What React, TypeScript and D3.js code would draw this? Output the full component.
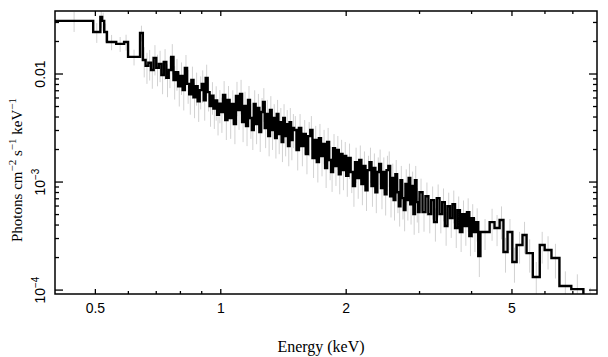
import React from "react";
import * as d3 from "d3";

// Bin edges in keV (N+1 values)
const binEdges: number[] = [
  0.40, 0.494, 0.514, 0.519, 0.525, 0.533, 0.561, 0.586, 0.599, 0.640,
  0.65, 0.66, 0.67, 0.68, 0.69, 0.70, 0.71, 0.72, 0.73, 0.74, 0.75, 0.76, 0.77, 0.78, 0.79,
  0.80, 0.81, 0.82, 0.83, 0.84, 0.85, 0.86, 0.87, 0.88, 0.89, 0.90, 0.91, 0.92, 0.93, 0.94,
  0.95, 0.96, 0.97, 0.98, 0.99,
  1.0000, 1.0125, 1.0250, 1.0375, 1.0500, 1.0625, 1.0750, 1.0875, 1.1000, 1.1125,
  1.1250, 1.1375, 1.1500, 1.1625, 1.1750, 1.1875, 1.2000, 1.2125, 1.2250, 1.2375,
  1.2500, 1.2625, 1.2750, 1.2875, 1.3000, 1.3125, 1.3250, 1.3375, 1.3500, 1.3625,
  1.3750, 1.3875, 1.4000, 1.4125, 1.4250, 1.4375, 1.4500, 1.4625, 1.4750, 1.4875,
  1.50, 1.52, 1.54, 1.56, 1.58, 1.60, 1.62, 1.64, 1.66, 1.68, 1.70, 1.72, 1.74,
  1.76, 1.78, 1.80, 1.82, 1.84, 1.86, 1.88, 1.90, 1.92, 1.94, 1.96, 1.98,
  2.000, 2.025, 2.050, 2.075, 2.100, 2.125, 2.150, 2.175, 2.200, 2.225,
  2.250, 2.275, 2.300, 2.325, 2.350, 2.375, 2.400, 2.425, 2.450, 2.475,
  2.500, 2.525, 2.550, 2.575, 2.600, 2.625, 2.650, 2.675, 2.700, 2.725,
  2.750, 2.775, 2.800, 2.825, 2.850, 2.875, 2.900, 2.925, 2.950, 2.975,
  3.00, 3.05, 3.10, 3.15, 3.20, 3.25, 3.30, 3.35, 3.40, 3.45, 3.50, 3.55,
  3.60, 3.65, 3.70, 3.75, 3.80, 3.85, 3.90, 3.95, 4.00, 4.05, 4.10, 4.15,
  4.20, 4.42, 4.54, 4.67, 4.77, 4.88, 5.01, 5.13, 5.30, 5.42, 5.61, 5.83, 5.99, 6.22, 6.50,
  6.94, 7.42,
  8.00,
];

// Flux in units of 1e-4 photons cm^-2 s^-1 keV^-1 (one per bin)
const flux: number[] = [
  310, 245, 337, 310, 245, 198, 190, 198, 144, 240,
  135, 119, 127, 109, 141, 114, 124, 98, 129, 92, 109, 144, 88, 104, 77,
  96, 71, 114, 81, 65, 88, 61, 77, 56, 71, 81, 57, 92, 68, 50.5,
  63, 48, 57, 42, 53,
  44.5, 63.9, 37.5, 57.4, 39.1, 52.7, 34.4, 62.6, 46.4, 65.3,
  35.9, 50.5, 33.0, 57.4, 39.1, 30.3, 52.7, 34.4, 48.4, 29.0,
  44.5, 55.0, 31.6, 42.6, 26.6, 46.4, 30.3, 39.1, 25.5, 42.6,
  27.8, 35.9, 23.5, 39.1, 26.6, 34.4, 21.5, 35.9, 24.5, 31.6,
  30.3, 19.8, 31.6, 21.5, 27.8, 18.2, 26.6, 30.3, 16.7, 24.5, 15.3, 25.5, 17.4,
  22.5, 13.5, 23.5, 16.0, 12.4, 20.6, 14.1, 19.8, 11.8, 18.2, 12.9, 17.4,
  11.4, 16.7, 12.4, 9.2, 15.3, 10.9, 16.0, 9.6, 14.1, 8.4,
  12.9, 15.3, 9.2, 13.5, 8.05, 12.4, 14.7, 8.8, 12.4, 7.7,
  12.9, 14.1, 7.4, 10.9, 6.8, 11.8, 8.05, 5.97, 10.4, 7.1,
  5.5, 9.6, 6.8, 10.9, 6.24, 9.2, 5.05, 10.4, 6.52, 5.27,
  8.05, 5.27, 7.4, 5.05, 6.8, 4.26, 7.1, 5.05, 6.52, 3.92, 5.97, 4.64,
  6.24, 3.75, 5.5, 3.45, 5.05, 3.92, 5.27, 3.16, 4.64, 3.45, 4.26, 2.07,
  3.45, 4.26, 3.75, 4.45, 2.25, 3.45, 1.82, 2.61, 3.23, 2.20, 1.32, 2.61, 2.35, 1.98, 1.09,
  1.02, 0.75,
];

// 1-sigma errors, same units
const fluxErr: number[] = [
  65, 51, 70, 60, 48, 32, 30, 33, 24, 40,
  42, 38, 40, 36, 44, 37, 40, 33, 41, 31, 35, 45, 30, 34, 27,
  32, 25, 36, 28, 23, 29, 22, 26, 20, 24, 27, 20, 30, 23, 18,
  21, 17, 20, 15, 18,
  16, 22, 13, 20, 14, 18, 12, 22, 16, 23,
  12.5, 18, 11.5, 20, 14, 10.5, 18, 12, 17, 10,
  15.5, 19, 11, 15, 9.3, 16, 10.5, 13.5, 9, 15,
  9.7, 12.5, 8.2, 13.5, 9.3, 12, 7.5, 12.5, 8.6, 11,
  10.5, 7, 11, 7.5, 9.7, 6.4, 9.3, 10.5, 5.8, 8.6, 5.4, 9, 6.1,
  7.9, 4.7, 8.2, 5.6, 4.3, 7.2, 4.9, 6.9, 4.1, 6.4, 4.5, 6.1,
  4.1, 6, 4.5, 3.3, 5.5, 3.9, 5.8, 3.5, 5.1, 3.0,
  4.6, 5.5, 3.3, 4.9, 2.9, 4.5, 5.3, 3.2, 4.5, 2.8,
  4.6, 5.1, 2.7, 3.9, 2.4, 4.2, 2.9, 2.1, 3.7, 2.6,
  2.0, 3.5, 2.4, 3.9, 2.2, 3.3, 1.8, 3.7, 2.3, 1.9,
  2.7, 1.8, 2.5, 1.7, 2.3, 1.45, 2.4, 1.7, 2.2, 1.35, 2.0, 1.6,
  2.1, 1.3, 1.85, 1.2, 1.7, 1.35, 1.8, 1.1, 1.6, 1.2, 1.45, 0.75,
  1.1, 1.4, 1.2, 1.5, 0.8, 1.1, 0.65, 0.85, 1.05, 0.75, 0.5, 0.85, 0.8, 0.7, 0.4,
  0.38, 0.3,
];

const fluxUnit = 1e-4;

const xMajorTicks = [0.5, 1, 2, 5];
const xTickLabels = ["0.5", "1", "2", "5"];
const xMinorTicks = [0.6, 0.7, 0.8, 0.9, 3, 4, 6, 7];

const yMajorTicks = [1e-4, 1e-3, 1e-2];
const yMinorTicks = [
  2e-4, 3e-4, 4e-4, 5e-4, 6e-4, 7e-4, 8e-4, 9e-4,
  2e-3, 3e-3, 4e-3, 5e-3, 6e-3, 7e-3, 8e-3, 9e-3,
  2e-2, 3e-2,
];

const xDomain: [number, number] = [0.4, 8];
const yDomain: [number, number] = [9.2e-5, 0.0383];

const W = 608;
const H = 357;
const L = 55, R = 597, T = 11, B = 294;

export default function App() {
  const x = d3.scaleLog().domain(xDomain).range([L, R]);
  const y = d3.scaleLog().domain(yDomain).range([B, T]);

  const n = flux.length;
  const pts: [number, number][] = [];
  for (let i = 0; i < n; i++) pts.push([binEdges[i], flux[i] * fluxUnit]);
  pts.push([binEdges[n], flux[n - 1] * fluxUnit]);

  const line = d3
    .line<[number, number]>()
    .x((d) => x(d[0]))
    .y((d) => y(Math.max(d[1], 1e-6)))
    .curve(d3.curveStepAfter);

  const sans = "'Liberation Sans', Arial, Helvetica, sans-serif";
  const serif = "'Liberation Serif', 'Times New Roman', serif";

  const errBars = flux.map((f, i) => {
    const c = Math.sqrt(binEdges[i] * binEdges[i + 1]);
    const hi = (f + fluxErr[i]) * fluxUnit;
    const lo = Math.max((f - fluxErr[i]) * fluxUnit, 1e-6);
    return (
      <line
        key={"e" + i}
        x1={x(c)}
        x2={x(c)}
        y1={y(hi)}
        y2={y(lo)}
        stroke="#d2d2d2"
        strokeWidth={1}
      />
    );
  });

  return (
    <div style={{ position: "absolute", left: 0, top: 0 }}>
      <svg width={W} height={H} style={{ display: "block", background: "#fff" }}>
        <defs>
          <clipPath id="plotClip">
            <rect x={L} y={T} width={R - L} height={B - T} />
          </clipPath>
        </defs>
        <g clipPath="url(#plotClip)">
          {errBars}
          <path d={line(pts) || ""} fill="none" stroke="#000" strokeWidth={2.4} strokeLinejoin="miter" />
        </g>

        {/* frame */}
        <rect x={L} y={T} width={R - L} height={B - T} fill="none" stroke="#000" strokeWidth={1.5} />

        {/* x ticks */}
        {xMajorTicks.map((t) => (
          <g key={"xm" + t}>
            <line x1={x(t)} x2={x(t)} y1={B} y2={B - 5} stroke="#000" strokeWidth={1.3} />
            <line x1={x(t)} x2={x(t)} y1={T} y2={T + 5} stroke="#000" strokeWidth={1.3} />
          </g>
        ))}
        {xMinorTicks.map((t) => (
          <g key={"xn" + t}>
            <line x1={x(t)} x2={x(t)} y1={B} y2={B - 3} stroke="#000" strokeWidth={1.3} />
            <line x1={x(t)} x2={x(t)} y1={T} y2={T + 3} stroke="#000" strokeWidth={1.3} />
          </g>
        ))}
        {xMajorTicks.map((t, i) => (
          <text key={"xl" + t} x={x(t)} y={313} textAnchor="middle" fontFamily={sans} fontSize={14} fill="#000">
            {xTickLabels[i]}
          </text>
        ))}

        {/* y ticks */}
        {yMajorTicks.map((t) => (
          <g key={"ym" + t}>
            <line x1={L} x2={L + 8} y1={y(t)} y2={y(t)} stroke="#000" strokeWidth={1.3} />
            <line x1={R} x2={R - 8} y1={y(t)} y2={y(t)} stroke="#000" strokeWidth={1.3} />
          </g>
        ))}
        {yMinorTicks.map((t) => (
          <g key={"yn" + t}>
            <line x1={L} x2={L + 4} y1={y(t)} y2={y(t)} stroke="#000" strokeWidth={1.3} />
            <line x1={R} x2={R - 4} y1={y(t)} y2={y(t)} stroke="#000" strokeWidth={1.3} />
          </g>
        ))}

        {/* y tick labels (rotated) */}
        <text transform={`translate(45, ${y(1e-2)}) rotate(-90)`} textAnchor="middle" fontFamily={sans} fontSize={14} fill="#000">
          0.01
        </text>
        <text transform={`translate(45, ${y(1e-3)}) rotate(-90)`} textAnchor="middle" fontFamily={sans} fontSize={14} fill="#000">
          10
          <tspan dy={-6} fontSize={10}>−3</tspan>
        </text>
        <text transform={`translate(45, ${y(1e-4)}) rotate(-90)`} textAnchor="middle" fontFamily={sans} fontSize={14} fill="#000">
          10
          <tspan dy={-6} fontSize={10}>−4</tspan>
        </text>

        {/* axis titles */}
        <text x={321} y={352} textAnchor="middle" fontFamily={serif} fontSize={16} fill="#000">
          Energy (keV)
        </text>
        <text transform="translate(22, 170) rotate(-90)" textAnchor="middle" fontFamily={serif} fontSize={15} fill="#000">
          Photons cm
          <tspan dy={-6} fontSize={11}>−2</tspan>
          <tspan dy={6}> s</tspan>
          <tspan dy={-6} fontSize={11}>−1</tspan>
          <tspan dy={6}> keV</tspan>
          <tspan dy={-6} fontSize={11}>−1</tspan>
        </text>
      </svg>
    </div>
  );
}
